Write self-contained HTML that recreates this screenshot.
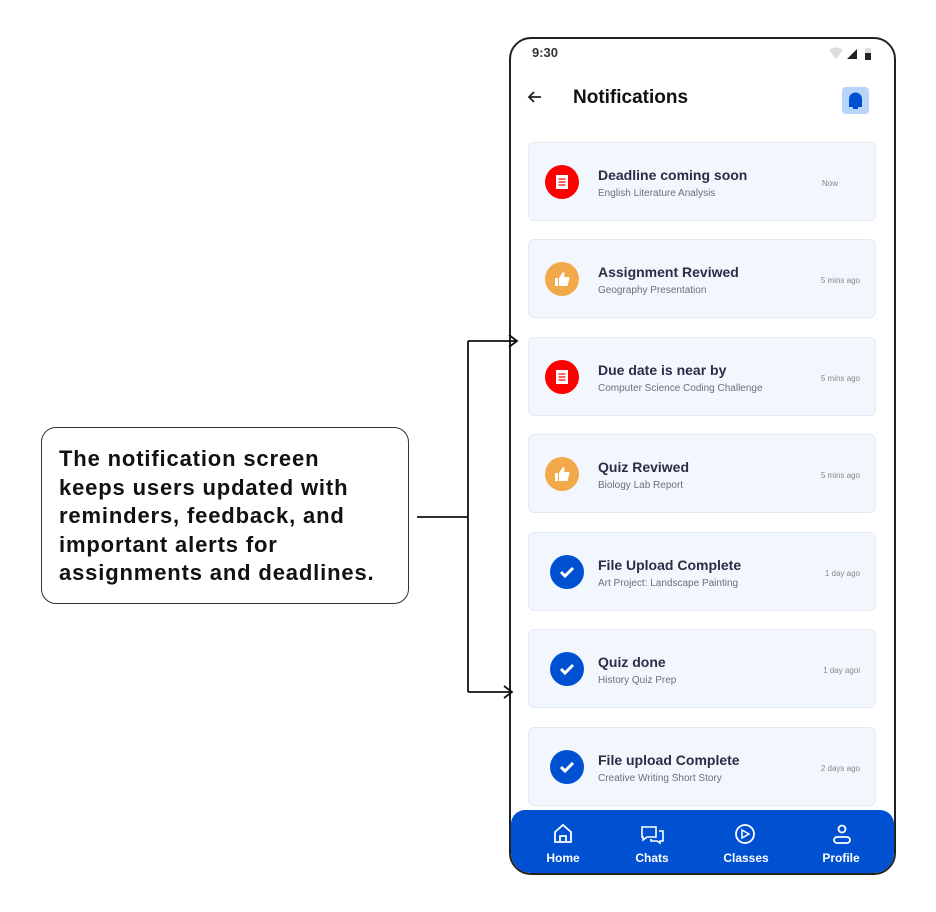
<!DOCTYPE html>
<html><head><meta charset="utf-8"><style>
*{margin:0;padding:0;box-sizing:border-box}
body{width:936px;height:912px;background:#fff;position:relative;overflow:hidden;font-family:"Liberation Sans",sans-serif}
.abs{position:absolute}
.callout{left:41px;top:427px;width:368px;height:177px;border:1.3px solid #333;border-radius:15px}
.callout p{position:absolute;left:17px;top:17px;font-size:22px;font-weight:bold;line-height:28.5px;color:#111;letter-spacing:0.85px;white-space:nowrap}
.phone{left:509px;top:37px;width:387px;height:838px;border:2px solid #222;border-radius:22px;overflow:hidden;background:#fff}
.card{position:absolute;left:17px;width:348px;height:79px;background:#f2f6fd;border:1px solid #e6ebf3;border-radius:6px}
.ic{position:absolute;left:16px;top:22px;width:34px;height:34px;border-radius:50%}
.t{position:absolute;left:69px;top:24px;font-size:14px;font-weight:bold;color:#2a2d45}
.s{position:absolute;left:69px;top:45px;font-size:10px;color:#6b6f7c}
.tm{position:absolute;right:15px;top:36px;font-size:8px;color:#888}
.nav{position:absolute;left:0;bottom:0;width:100%;height:63px;background:#0051d1;border-radius:14px 14px 0 0}
.ni{position:absolute;top:41px;font-size:12px;font-weight:bold;color:#fff;width:80px;text-align:center}
</style></head><body>
<div class="abs callout"><p>The notification screen<br>keeps users updated with<br>reminders, feedback, and<br>important alerts for<br>assignments and deadlines.</p></div>
<div class="abs phone">
<div class="abs" style="left:21px;top:6px;font-size:13px;font-weight:bold;color:#333">9:30</div>
<svg class="abs" style="left:316px;top:8px" width="48" height="14"><path d="M2 3Q9 -2 16 3L9 12Z" fill="#ddd"/><path d="M20 12L30 2V12Z" fill="#222"/><rect x="38" y="1" width="6" height="12" fill="#ddd"/><rect x="38" y="6" width="6" height="7" fill="#222"/></svg>
<svg class="abs" style="left:15px;top:49px" width="18" height="18"><path d="M15 9H3M8 4L3 9L8 14" stroke="#222" stroke-width="1.8" fill="none"/></svg>
<div class="abs" style="left:62px;top:48px;font-size:19px;font-weight:bold;color:#111">Notifications</div>
<div class="abs" style="left:331px;top:48px;width:27px;height:27px;background:#b9d4fb;border-radius:4px"><svg width="27" height="27"><path d="M7 20V12A6.5 6.5 0 0 1 20 12V20Z" fill="#0051d1"/><rect x="11" y="20" width="5" height="2" fill="#0051d1"/></svg></div>

<div class="card" style="top:103px"><div class="ic" style="background:#f00"><svg width="34" height="34"><rect x="11" y="10" width="12" height="14" fill="#fff"/><path d="M13.5 14H20.5M13.5 17H20.5M13.5 20H20.5" stroke="#f00" stroke-width="1.3"/></svg></div><div class="t">Deadline coming soon</div><div class="s">English Literature Analysis</div><div class="tm" style="right:37px">Now</div></div>
<div class="card" style="top:200px"><div class="ic" style="background:#f2a94a"><svg width="34" height="34"><path d="M10 16H13V24H10ZM14 16L18 10Q20 10 19.5 13L19 15H24Q25 16 24 18L22.5 24H14Z" fill="#fff"/></svg></div><div class="t">Assignment Reviwed</div><div class="s">Geography Presentation</div><div class="tm">5 mins ago</div></div>
<div class="card" style="top:298px"><div class="ic" style="background:#f00"><svg width="34" height="34"><rect x="11" y="10" width="12" height="14" fill="#fff"/><path d="M13.5 14H20.5M13.5 17H20.5M13.5 20H20.5" stroke="#f00" stroke-width="1.3"/></svg></div><div class="t">Due date is near by</div><div class="s">Computer Science Coding Challenge</div><div class="tm">5 mins ago</div></div>
<div class="card" style="top:395px"><div class="ic" style="background:#f2a94a"><svg width="34" height="34"><path d="M10 16H13V24H10ZM14 16L18 10Q20 10 19.5 13L19 15H24Q25 16 24 18L22.5 24H14Z" fill="#fff"/></svg></div><div class="t">Quiz Reviwed</div><div class="s">Biology Lab Report</div><div class="tm">5 mins ago</div></div>
<div class="card" style="top:493px"><div class="ic" style="background:#0051d1;left:21px"><svg width="34" height="34"><path d="M11 17L15 21L23 13" stroke="#fff" stroke-width="3" fill="none"/></svg></div><div class="t">File Upload Complete</div><div class="s">Art Project: Landscape Painting</div><div class="tm">1 day ago</div></div>
<div class="card" style="top:590px"><div class="ic" style="background:#0051d1;left:21px"><svg width="34" height="34"><path d="M11 17L15 21L23 13" stroke="#fff" stroke-width="3" fill="none"/></svg></div><div class="t">Quiz done</div><div class="s">History Quiz Prep</div><div class="tm">1 day agoi</div></div>
<div class="card" style="top:688px"><div class="ic" style="background:#0051d1;left:21px"><svg width="34" height="34"><path d="M11 17L15 21L23 13" stroke="#fff" stroke-width="3" fill="none"/></svg></div><div class="t">File upload Complete</div><div class="s">Creative Writing Short Story</div><div class="tm">2 days ago</div></div>

<div class="nav">
<svg class="abs" style="left:0;top:0" width="387" height="40">
<path d="M44 22L52 15L60 22V32H44ZM49 32V26H55V32" stroke="#fff" stroke-width="1.8" fill="none"/>
<path d="M131 17H145V27H136L132 30V27H131Z M148 21H152V31H149V33L146 31H140V29" stroke="#fff" stroke-width="1.6" fill="none"/>
<circle cx="234" cy="24" r="9" stroke="#fff" stroke-width="1.8" fill="none"/><path d="M231 20V28L238 24Z" stroke="#fff" stroke-width="1.5" fill="none"/>
<circle cx="331" cy="19" r="3.5" stroke="#fff" stroke-width="1.8" fill="none"/><rect x="323" y="27" width="16" height="6" rx="3" stroke="#fff" stroke-width="1.8" fill="none"/>
</svg>
<div class="ni" style="left:12px">Home</div>
<div class="ni" style="left:101px">Chats</div>
<div class="ni" style="left:195px">Classes</div>
<div class="ni" style="left:290px">Profile</div>
</div>
</div>
<svg class="abs" style="left:0;top:0;z-index:5" width="936" height="912">
<path d="M417 517H468M468 341V692M468 341H516M468 692H511" stroke="#111" stroke-width="1.8" fill="none"/>
<path d="M509 335L517 341L509 347M504 686L512 692L504 698" stroke="#111" stroke-width="1.8" fill="none"/>
</svg>
</body></html>
